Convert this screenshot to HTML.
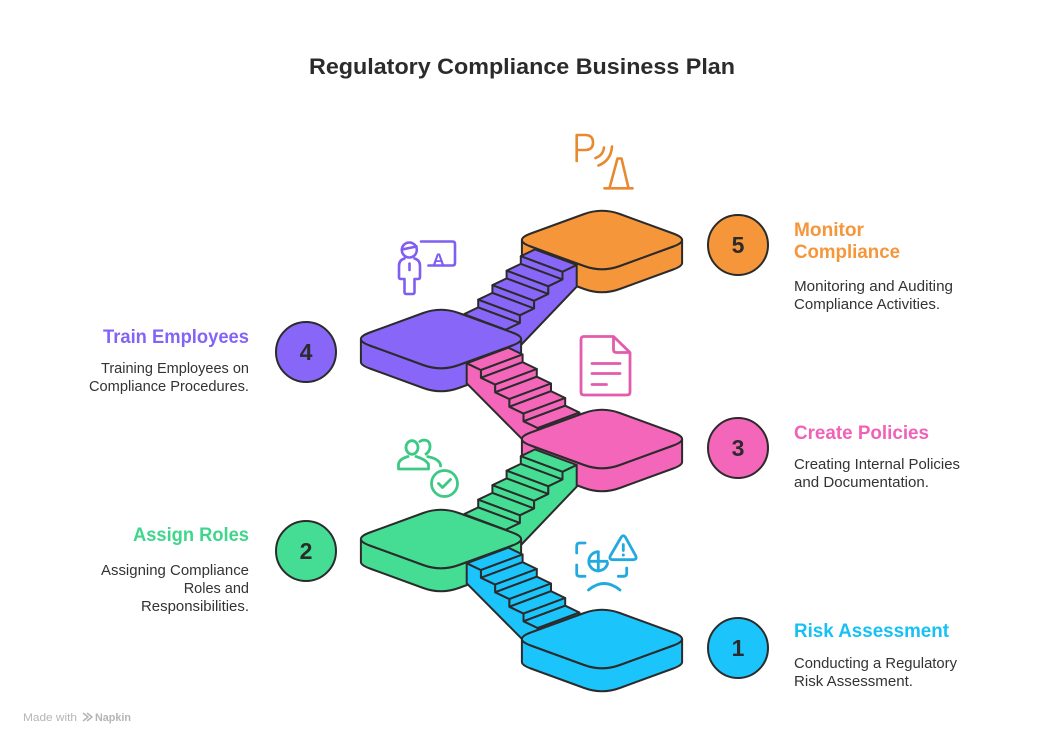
<!DOCTYPE html>
<html><head><meta charset="utf-8"><style>
html,body{margin:0;padding:0;background:#fff;}
svg{display:block;}
text{font-family:"Liberation Sans",Arial,sans-serif;}
</style></head><body>
<svg width="1044" height="745" viewBox="0 0 1044 745" xmlns="http://www.w3.org/2000/svg">
<rect width="1044" height="745" fill="#fff"/>
<text x="522" y="74" text-anchor="middle" font-size="22" font-weight="bold" fill="#2b2b2b" textLength="426" lengthAdjust="spacingAndGlyphs">Regulatory Compliance Business Plan</text>

<g stroke="#2b2b2b" stroke-width="2" stroke-linejoin="round">
<!-- orange platform -->
<g transform="translate(602,240)" fill="#F6963A">
<path d="M-80.1,0 Q-80.1,3.25 -71.2,6.5 L-17.8,26 Q0,32.5 17.8,26 L71.2,6.5 Q80.1,3.25 80.1,0 L80.1,23 Q80.1,26.25 71.2,29.5 L17.8,49 Q0,55.5 -17.8,49 L-71.2,29.5 Q-80.1,26.25 -80.1,23 Z"/>
<path d="M-71.2,-6.5 L-17.8,-26 Q0,-32.5 17.8,-26 L71.2,-6.5 Q89,0 71.2,6.5 L17.8,26 Q0,32.5 -17.8,26 L-71.2,6.5 Q-89,0 -71.2,-6.5 Z"/>
</g>
<!-- purple flight -->
<g transform="translate(0,-200)" fill="#8766F8">
<polygon points="576.7,465 562.5,471.8 520.8,456.2 535,449.4"/>
<polygon points="562.5,471.8 562.5,479.5 520.8,463.9 520.8,456.2"/>
<polygon points="562.5,479.5 548.3,486.3 506.6,470.7 520.8,463.9"/>
<polygon points="548.3,486.3 548.3,494 506.6,478.4 506.6,470.7"/>
<polygon points="548.3,494 534.1,500.8 492.4,485.2 506.6,478.4"/>
<polygon points="534.1,500.8 534.1,508.5 492.4,492.9 492.4,485.2"/>
<polygon points="534.1,508.5 519.9,515.3 478.2,499.7 492.4,492.9"/>
<polygon points="519.9,515.3 519.9,523 478.2,507.4 478.2,499.7"/>
<polygon points="519.9,523 505.7,529.8 464,514.2 478.2,507.4"/>
<polygon points="576.7,465 562.5,471.8 562.5,479.5 548.3,486.3 548.3,494 534.1,500.8 534.1,508.5 519.9,515.3 519.9,523 505.7,529.8 510,540 521,545 576.7,486.7"/>
</g>
<!-- purple platform -->
<g transform="translate(441,339)" fill="#8766F8">
<path d="M-80.1,0 Q-80.1,3.25 -71.2,6.5 L-17.8,26 Q0,32.5 17.8,26 L71.2,6.5 Q80.1,3.25 80.1,0 L80.1,23 Q80.1,26.25 71.2,29.5 L17.8,49 Q0,55.5 -17.8,49 L-71.2,29.5 Q-80.1,26.25 -80.1,23 Z"/>
<path d="M-71.2,-6.5 L-17.8,-26 Q0,-32.5 17.8,-26 L71.2,-6.5 Q89,0 71.2,6.5 L17.8,26 Q0,32.5 -17.8,26 L-71.2,6.5 Q-89,0 -71.2,-6.5 Z"/>
</g>
<!-- pink flight -->
<g transform="translate(0,-200)" fill="#F466BA">
<polygon points="466.7,563.3 480.9,570.1 522.6,554.5 508.4,547.7"/>
<polygon points="480.9,570.1 480.9,577.8 522.6,562.2 522.6,554.5"/>
<polygon points="480.9,577.8 495.1,584.6 536.8,569 522.6,562.2"/>
<polygon points="495.1,584.6 495.1,592.3 536.8,576.7 536.8,569"/>
<polygon points="495.1,592.3 509.3,599.1 551,583.5 536.8,576.7"/>
<polygon points="509.3,599.1 509.3,606.8 551,591.2 551,583.5"/>
<polygon points="509.3,606.8 523.5,613.6 565.2,598 551,591.2"/>
<polygon points="523.5,613.6 523.5,621.3 565.2,605.7 565.2,598"/>
<polygon points="523.5,621.3 537.7,628.1 579.4,612.5 565.2,605.7"/>
<polygon points="537.7,628.1 537.7,635.8 579.4,620.2 579.4,612.5"/>
<polygon points="466.7,563.3 480.9,570.1 480.9,577.8 495.1,584.6 495.1,592.3 509.3,599.1 509.3,606.8 523.5,613.6 523.5,621.3 537.7,628.1 537.7,635.8 540,640 524,641 466.7,583.3"/>
</g>
<!-- pink platform -->
<g transform="translate(602,439)" fill="#F466BA">
<path d="M-80.1,0 Q-80.1,3.25 -71.2,6.5 L-17.8,26 Q0,32.5 17.8,26 L71.2,6.5 Q80.1,3.25 80.1,0 L80.1,23 Q80.1,26.25 71.2,29.5 L17.8,49 Q0,55.5 -17.8,49 L-71.2,29.5 Q-80.1,26.25 -80.1,23 Z"/>
<path d="M-71.2,-6.5 L-17.8,-26 Q0,-32.5 17.8,-26 L71.2,-6.5 Q89,0 71.2,6.5 L17.8,26 Q0,32.5 -17.8,26 L-71.2,6.5 Q-89,0 -71.2,-6.5 Z"/>
</g>
<!-- green flight -->
<g fill="#44DD93">
<polygon points="576.7,465 562.5,471.8 520.8,456.2 535,449.4"/>
<polygon points="562.5,471.8 562.5,479.5 520.8,463.9 520.8,456.2"/>
<polygon points="562.5,479.5 548.3,486.3 506.6,470.7 520.8,463.9"/>
<polygon points="548.3,486.3 548.3,494 506.6,478.4 506.6,470.7"/>
<polygon points="548.3,494 534.1,500.8 492.4,485.2 506.6,478.4"/>
<polygon points="534.1,500.8 534.1,508.5 492.4,492.9 492.4,485.2"/>
<polygon points="534.1,508.5 519.9,515.3 478.2,499.7 492.4,492.9"/>
<polygon points="519.9,515.3 519.9,523 478.2,507.4 478.2,499.7"/>
<polygon points="519.9,523 505.7,529.8 464,514.2 478.2,507.4"/>
<polygon points="576.7,465 562.5,471.8 562.5,479.5 548.3,486.3 548.3,494 534.1,500.8 534.1,508.5 519.9,515.3 519.9,523 505.7,529.8 510,540 521,545 576.7,486.7"/>
</g>
<!-- green platform -->
<g transform="translate(441,539)" fill="#44DD93">
<path d="M-80.1,0 Q-80.1,3.25 -71.2,6.5 L-17.8,26 Q0,32.5 17.8,26 L71.2,6.5 Q80.1,3.25 80.1,0 L80.1,23 Q80.1,26.25 71.2,29.5 L17.8,49 Q0,55.5 -17.8,49 L-71.2,29.5 Q-80.1,26.25 -80.1,23 Z"/>
<path d="M-71.2,-6.5 L-17.8,-26 Q0,-32.5 17.8,-26 L71.2,-6.5 Q89,0 71.2,6.5 L17.8,26 Q0,32.5 -17.8,26 L-71.2,6.5 Q-89,0 -71.2,-6.5 Z"/>
</g>
<!-- blue flight -->
<g fill="#1BC5FB">
<polygon points="466.7,563.3 480.9,570.1 522.6,554.5 508.4,547.7"/>
<polygon points="480.9,570.1 480.9,577.8 522.6,562.2 522.6,554.5"/>
<polygon points="480.9,577.8 495.1,584.6 536.8,569 522.6,562.2"/>
<polygon points="495.1,584.6 495.1,592.3 536.8,576.7 536.8,569"/>
<polygon points="495.1,592.3 509.3,599.1 551,583.5 536.8,576.7"/>
<polygon points="509.3,599.1 509.3,606.8 551,591.2 551,583.5"/>
<polygon points="509.3,606.8 523.5,613.6 565.2,598 551,591.2"/>
<polygon points="523.5,613.6 523.5,621.3 565.2,605.7 565.2,598"/>
<polygon points="523.5,621.3 537.7,628.1 579.4,612.5 565.2,605.7"/>
<polygon points="537.7,628.1 537.7,635.8 579.4,620.2 579.4,612.5"/>
<polygon points="466.7,563.3 480.9,570.1 480.9,577.8 495.1,584.6 495.1,592.3 509.3,599.1 509.3,606.8 523.5,613.6 523.5,621.3 537.7,628.1 537.7,635.8 540,640 524,641 466.7,583.3"/>
</g>
<!-- blue platform -->
<g transform="translate(602,639)" fill="#1BC5FB">
<path d="M-80.1,0 Q-80.1,3.25 -71.2,6.5 L-17.8,26 Q0,32.5 17.8,26 L71.2,6.5 Q80.1,3.25 80.1,0 L80.1,23 Q80.1,26.25 71.2,29.5 L17.8,49 Q0,55.5 -17.8,49 L-71.2,29.5 Q-80.1,26.25 -80.1,23 Z"/>
<path d="M-71.2,-6.5 L-17.8,-26 Q0,-32.5 17.8,-26 L71.2,-6.5 Q89,0 71.2,6.5 L17.8,26 Q0,32.5 -17.8,26 L-71.2,6.5 Q-89,0 -71.2,-6.5 Z"/>
</g>

<!-- number circles -->
<circle cx="738" cy="245" r="30" fill="#F6963A"/>
<circle cx="306" cy="352" r="30" fill="#8766F8"/>
<circle cx="738" cy="448" r="30" fill="#F466BA"/>
<circle cx="306" cy="551" r="30" fill="#44DD93"/>
<circle cx="738" cy="648" r="30" fill="#1BC5FB"/>
</g>
<g font-size="23" font-weight="bold" fill="#2b2b2b" text-anchor="middle">
<text x="738" y="253">5</text>
<text x="306" y="360">4</text>
<text x="738" y="456">3</text>
<text x="306" y="559">2</text>
<text x="738" y="656">1</text>
</g>

<!-- icons -->
<g fill="none" stroke="#E8882F" stroke-width="2.6" stroke-linecap="round" stroke-linejoin="round">
<path d="M576.7,161 L576.7,135 L585,135 Q593,135 593,142.5 Q593,150 585,150 L576.7,150"/>
<path d="M595.5,158 Q603,155.5 604,147.5"/>
<path d="M598.5,165.5 Q611,160.5 612,146.5"/>
<path d="M609.5,188 L617.5,158.5 L621.5,158.5 L628.5,188"/>
<path d="M604.5,188.3 L632.5,188.3"/>
</g>
<g fill="none" stroke="#7F5EF0" stroke-width="2.6" stroke-linecap="round" stroke-linejoin="round">
<circle cx="409.3" cy="250" r="7.5"/>
<path d="M402,249.5 L416.5,246.5"/>
<path d="M404.5,258.5 Q399,260 399,266 L399,277 Q399,279 401,279 L404.5,279 L404.5,292 Q404.5,294 406.5,294 L412.5,294 Q414.5,294 414.5,292 L414.5,279 L418,279 Q420,279 420,277 L420,266 Q420,260 414.5,258.5"/>
<path d="M409.5,263.5 L409.5,270"/>
<path d="M421,241.5 L452.5,241.5 Q455,241.5 455,244 L455,263 Q455,265.5 452.5,265.5 L428.5,265.5"/>
</g>
<text x="438.5" y="265" font-size="17" font-weight="bold" fill="#7F5EF0" text-anchor="middle">A</text>
<g fill="none" stroke="#E25BAD" stroke-width="2.8" stroke-linecap="round" stroke-linejoin="round">
<path d="M584,336.5 L613.5,336.5 L630,352.5 L630,392 Q630,395 627,395 L584,395 Q581,395 581,392 L581,339.5 Q581,336.5 584,336.5 Z"/>
<path d="M613.5,337 L613.5,349.5 Q613.5,352.5 616.5,352.5 L629.5,352.5"/>
<path d="M592,363.5 L620,363.5 M592,373.5 L620,373.5 M592,384.5 L606.5,384.5"/>
</g>
<g fill="none" stroke="#3DC985" stroke-width="2.8" stroke-linecap="round" stroke-linejoin="round">
<ellipse cx="412" cy="447.5" rx="6" ry="6.8"/>
<path d="M398.5,469 L398.5,464.5 Q399,459 408,456.5 M416,456.5 Q425,459 428.5,464 L428.5,469 L398.5,469"/>
<path d="M419.8,441.5 Q424,438.8 428,441.2 Q431,444.5 429.6,449.2 Q428.6,452.5 426,454"/>
<path d="M427.8,456.6 Q436,458.2 439,461.8 Q440.6,463.5 440.6,466"/>
<circle cx="444.5" cy="483.5" r="13"/>
<path d="M438.5,483.5 L442.5,487.5 L450.5,479.5"/>
</g>
<g fill="none" stroke="#22AADE" stroke-width="2.8" stroke-linecap="round" stroke-linejoin="round">
<path d="M576.7,553 L576.7,546 Q576.7,543 579.7,543 L585,543"/>
<path d="M576.7,565 L576.7,573.5 Q576.7,576.3 579.7,576.3 L585,576.3"/>
<path d="M618.3,576.3 L623.7,576.3 Q626.7,576.3 626.7,573.3 L626.7,568"/>
<path d="M621,537.5 Q623.3,534 625.6,537.5 L635.5,555.5 Q637.5,559.7 633,559.7 L613,559.7 Q608.5,559.7 610.5,555.5 Z"/>
<path d="M623.3,544.5 L623.3,550.5"/>
<path d="M598.3,551.8 A9.5,9.5 0 1,0 607.6,563.2"/>
<path d="M598.3,551.8 L598.3,571 M589,561.3 L607,561.3"/>
<path d="M588.5,590 Q604,577 620,590"/>
</g>
<circle cx="623.3" cy="555" r="1.5" fill="#22AADE"/>

<!-- labels -->
<g font-size="19" font-weight="bold">
<text x="794" y="236" fill="#F6963A" textLength="70" lengthAdjust="spacingAndGlyphs">Monitor</text>
<text x="794" y="258" fill="#F6963A" textLength="106" lengthAdjust="spacingAndGlyphs">Compliance</text>
<text x="249" y="343" fill="#8464F6" text-anchor="end" textLength="146" lengthAdjust="spacingAndGlyphs">Train Employees</text>
<text x="794" y="439" fill="#F062B8" textLength="135" lengthAdjust="spacingAndGlyphs">Create Policies</text>
<text x="249" y="541" fill="#3FD68C" text-anchor="end" textLength="116" lengthAdjust="spacingAndGlyphs">Assign Roles</text>
<text x="794" y="637" fill="#17C0F5" textLength="155" lengthAdjust="spacingAndGlyphs">Risk Assessment</text>
</g>
<g font-size="14.5" fill="#333">
<text x="794" y="291" textLength="159" lengthAdjust="spacingAndGlyphs">Monitoring and Auditing</text>
<text x="794" y="309" textLength="146" lengthAdjust="spacingAndGlyphs">Compliance Activities.</text>
<text x="249" y="373" text-anchor="end" textLength="148" lengthAdjust="spacingAndGlyphs">Training Employees on</text>
<text x="249" y="391" text-anchor="end" textLength="160" lengthAdjust="spacingAndGlyphs">Compliance Procedures.</text>
<text x="794" y="469" textLength="166" lengthAdjust="spacingAndGlyphs">Creating Internal Policies</text>
<text x="794" y="487" textLength="135" lengthAdjust="spacingAndGlyphs">and Documentation.</text>
<text x="249" y="575" text-anchor="end" textLength="148" lengthAdjust="spacingAndGlyphs">Assigning Compliance</text>
<text x="249" y="593" text-anchor="end">Roles and</text>
<text x="249" y="611" text-anchor="end" textLength="108" lengthAdjust="spacingAndGlyphs">Responsibilities.</text>
<text x="794" y="668" textLength="163" lengthAdjust="spacingAndGlyphs">Conducting a Regulatory</text>
<text x="794" y="686" textLength="119" lengthAdjust="spacingAndGlyphs">Risk Assessment.</text>
</g>

<!-- footer -->
<text x="23" y="721" font-size="11" fill="#b5b5b5" textLength="54" lengthAdjust="spacingAndGlyphs">Made with</text>
<path d="M83,713 L88,717 L83,721 M87,713 L92,717 L87,721" fill="none" stroke="#b5b5b5" stroke-width="1.5" stroke-linejoin="round"/>
<text x="95" y="721" font-size="11" font-weight="bold" fill="#b5b5b5" textLength="36" lengthAdjust="spacingAndGlyphs">Napkin</text>
</svg>
</body></html>
